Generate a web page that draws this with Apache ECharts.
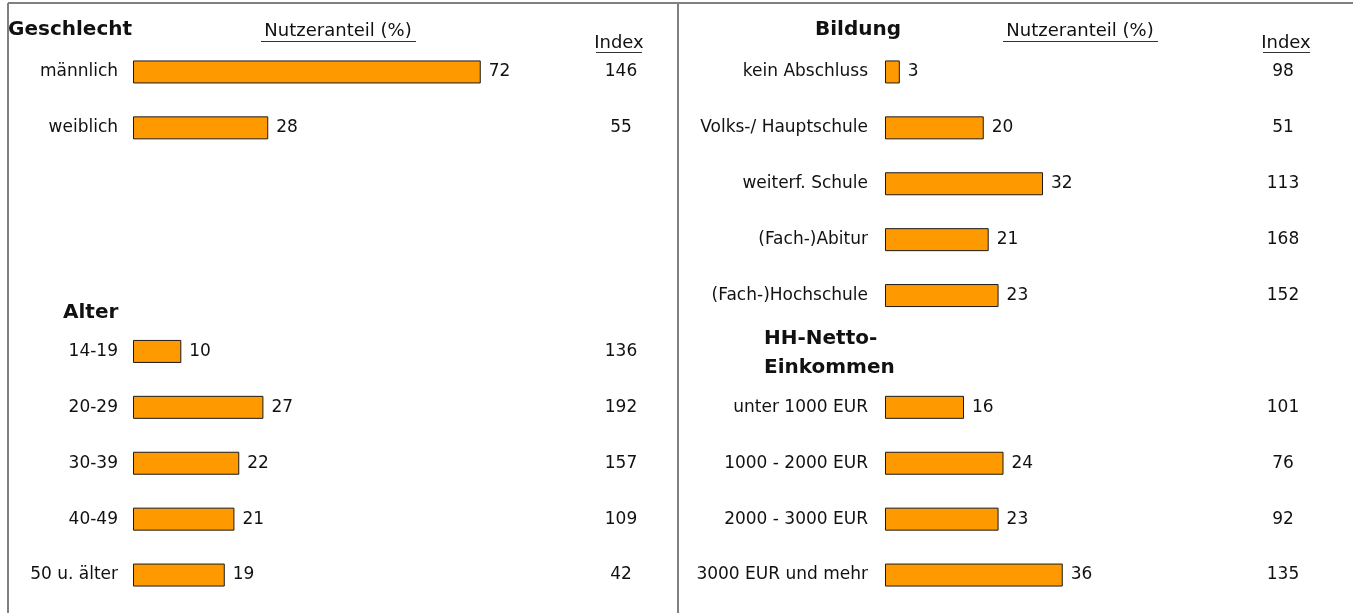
<!DOCTYPE html>
<html>
<head>
<meta charset="utf-8">
<script src="https://cdn.jsdelivr.net/npm/echarts@6/dist/echarts.min.js"></script>
<style>
  html, body { margin: 0; padding: 0; background: #fff; }
  #chart { width: 1353px; height: 613px; }
</style>
</head>
<body>
<div id="chart"></div>
<script>
// Nutzeranteil (%) und Index je Merkmal
const sexLabels = ['männlich', 'weiblich'];
const sexShare = [72, 28];
const sexIndex = [146, 55];

const ageLabels = ['14-19', '20-29', '30-39', '40-49', '50 u. älter'];
const ageShare = [10, 27, 22, 21, 19];
const ageIndex = [136, 192, 157, 109, 42];

const eduLabels = ['kein Abschluss', 'Volks-/ Hauptschule', 'weiterf. Schule', '(Fach-)Abitur', '(Fach-)Hochschule'];
const eduShare = [3, 20, 32, 21, 23];
const eduIndex = [98, 51, 113, 168, 152];

const incomeLabels = ['unter 1000 EUR', '1000 - 2000 EUR', '2000 - 3000 EUR', '3000 EUR und mehr'];
const incomeShare = [16, 24, 23, 36];
const incomeIndex = [101, 76, 92, 135];

// leere Zeilen zwischen den Blöcken (eindeutige Platzhalter)
const gap = n => Array.from({ length: n }, (_, i) => ' '.repeat(i + 1));
const nulls = n => Array(n).fill(null);

const leftCats = [...sexLabels, ...gap(3), ...ageLabels];
const leftVals = [...sexShare, ...nulls(3), ...ageShare];
const leftIdx = [...sexIndex.map(String), ...gap(3), ...ageIndex.map(String)];

const rightCats = [...eduLabels, ...gap(1), ...incomeLabels];
const rightVals = [...eduShare, ...nulls(1), ...incomeShare];
const rightIdx = [...eduIndex.map(String), ...gap(1), ...incomeIndex.map(String)];

const FONT = 'DejaVu Sans';
const txt = { color: '#111', fontSize: 17, fontFamily: FONT };

const chart = echarts.init(document.getElementById('chart'));

function catAxis(grid, data, margin) {
    return {
        type: 'category', gridIndex: grid, data: data, inverse: true,
        axisLine: { show: false }, axisTick: { show: false },
        axisLabel: Object.assign({ margin: margin, align: 'right' }, txt)
    };
}
function idxAxis(grid, data, margin) {
    return {
        type: 'category', gridIndex: grid, data: data, inverse: true, position: 'right',
        axisLine: { show: false }, axisTick: { show: false },
        axisLabel: Object.assign({ margin: margin, align: 'center', padding: [6, 0, 0, 0] }, txt)
    };
}
function barSeries(x, y, data) {
    return {
        type: 'bar', xAxisIndex: x, yAxisIndex: y, data: data, barWidth: 23,
        itemStyle: { color: '#FF9900', borderColor: '#1a1a1a', borderWidth: 1 },
        label: Object.assign({ show: true, position: 'right', distance: 8 }, txt),
        silent: true
    };
}
function title(text, x, y, bold, align) {
    return {
        type: 'text', x: x, y: y,
        style: {
            text: text, fill: '#111', align: align || 'left', verticalAlign: 'middle',
            font: (bold ? 'bold 20px ' : '18px ') + FONT
        }
    };
}
function line(x1, y1, x2, y2, color, w) {
    return {
        type: 'line', shape: { x1: x1, y1: y1, x2: x2, y2: y2 },
        style: { stroke: color, lineWidth: w }
    };
}

const option = {
    backgroundColor: '#fff',
    animation: false,
    grid: [
        { left: 133, top: 44, width: 483, height: 559 },
        { left: 885, top: 44, width: 395, height: 559 }
    ],
    xAxis: [
        { type: 'value', gridIndex: 0, min: 0, max: 100, show: false },
        { type: 'value', gridIndex: 1, min: 0, max: 80, show: false }
    ],
    yAxis: [
        catAxis(0, leftCats, 15),
        idxAxis(0, leftIdx, 5),
        catAxis(1, rightCats, 17),
        idxAxis(1, rightIdx, 3)
    ],
    series: [
        barSeries(0, 0, leftVals),
        barSeries(1, 2, rightVals)
    ],
    graphic: [
        // Rahmen
        line(8, 3, 1353, 3, '#808080', 2),
        line(8, 3, 8, 613, '#808080', 2),
        line(678, 3, 678, 613, '#808080', 2),
        // linke Spalte
        title('Geschlecht', 8, 30, true),
        title('Nutzeranteil (%)', 338, 31, false, 'center'),
        line(261, 41.5, 416, 41.5, '#333', 1),
        title('Index', 619, 43, false, 'center'),
        line(596, 52.5, 642, 52.5, '#333', 1),
        title('Alter', 63, 313, true),
        // rechte Spalte
        title('Bildung', 858, 30, true, 'center'),
        title('Nutzeranteil (%)', 1080, 31, false, 'center'),
        line(1003, 41.5, 1158, 41.5, '#333', 1),
        title('Index', 1286, 43, false, 'center'),
        line(1263, 52.5, 1310, 52.5, '#333', 1),
        title('HH-Netto-', 764, 339, true),
        title('Einkommen', 764, 368, true)
    ]
};

chart.setOption(option);
</script>
</body>
</html>
